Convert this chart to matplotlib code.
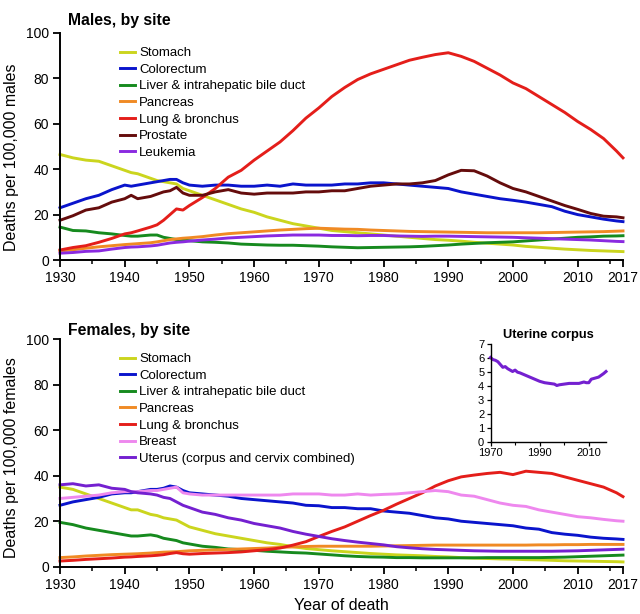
import matplotlib
matplotlib.use("Agg")
import matplotlib.pyplot as plt
from matplotlib.ticker import MultipleLocator, FixedLocator

plt.rcParams['font.family'] = ['Liberation Sans', 'DejaVu Sans']

years = [1930, 1932, 1934, 1936, 1938, 1940, 1941, 1942, 1944, 1945, 1946, 1947, 1948, 1949,
         1950, 1952, 1954, 1956, 1958, 1960, 1962, 1964, 1966, 1968, 1970, 1972, 1974, 1976,
         1978, 1980, 1982, 1984, 1986, 1988, 1990, 1992, 1994, 1996, 1998, 2000, 2002, 2004,
         2006, 2008, 2010, 2012, 2014, 2016, 2017]

# ---------------- Males ----------------
m_stomach = [46.5, 45, 44, 43.5, 41.5, 39.5, 38.5, 38, 36, 35, 34.5, 34, 33.5, 31.5,
             30.5, 28.5, 26.5, 24.5, 22.5, 21, 19, 17.5, 16, 15, 14, 13, 12.5, 12,
             11.5, 11, 10.5, 10, 9.5, 9, 8.7, 8.3, 7.8, 7.4, 7, 6.6, 6, 5.6,
             5.2, 4.8, 4.5, 4.2, 4, 3.8, 3.7]
m_colorectum = [23, 25, 27, 28.5, 31, 33, 32.5, 33, 34, 34.5, 35, 35.5, 35.5, 34,
                33, 32.5, 33, 33, 32.5, 32.5, 33, 32.5, 33.5, 33, 33, 33, 33.5, 33.5,
                34, 34, 33.5, 33, 32.5, 32, 31.5, 30, 29, 28, 27, 26.3, 25.5, 24.5,
                23.5, 21.5, 20, 19, 18, 17.2, 16.9]
m_liver = [14.5, 13, 12.8, 12, 11.5, 10.8, 10.5, 10.5, 11, 11, 10, 9.5, 9, 8.8,
           8.5, 8, 7.8, 7.5, 7, 6.8, 6.6, 6.5, 6.5, 6.3, 6.1, 5.8, 5.6, 5.4,
           5.5, 5.6, 5.7, 5.8, 6, 6.3, 6.6, 7, 7.3, 7.6, 7.8, 8, 8.4, 8.8,
           9.2, 9.6, 10, 10.2, 10.5, 10.6, 10.7]
m_pancreas = [4, 4.5, 5.2, 5.8, 6.3, 6.8, 7, 7.2, 7.6, 8, 8.5, 9, 9.3, 9.6,
              9.8, 10.3, 11, 11.6, 12, 12.4, 12.8, 13.2, 13.5, 13.8, 14, 13.8, 13.6, 13.5,
              13.2, 13, 12.8, 12.6, 12.5, 12.4, 12.3, 12.2, 12.1, 12, 12, 12, 12, 12,
              12.1, 12.2, 12.3, 12.4, 12.5, 12.7, 12.8]
m_lung = [4.4, 5.5, 6.3, 7.8, 9.5, 11.5, 12, 12.8, 14.5, 15.5, 17.5, 20, 22.5, 22,
          24, 27.5, 31.5, 36.5, 39.5, 44, 48, 52, 57, 62.5, 67, 72, 76, 79.5,
          82, 84, 86, 88, 89.3, 90.5, 91.3, 89.7, 87.5, 84.5, 81.5, 78, 75.5, 72,
          68.5, 65, 61, 57.5, 53.5, 48, 45]
m_prostate = [17.5, 19.5, 22, 23, 25.5, 27, 28.5, 27, 28, 29, 30, 30.5, 32, 29.5,
              28.5, 28.5, 30, 31, 29.5, 29, 29.5, 29.5, 29.5, 30, 30, 30.5, 30.5, 31.5,
              32.5, 33, 33.5, 33.5, 34, 35, 37.5, 39.5, 39.3, 37, 34, 31.5, 30, 28,
              26, 24, 22.3, 20.5, 19.3, 19, 18.6]
m_leukemia = [3, 3.3, 3.8, 4, 4.8, 5.5, 5.7, 5.8, 6.2, 6.5, 7, 7.5, 7.8, 8,
              8.3, 8.8, 9.2, 9.7, 10, 10.3, 10.6, 10.8, 11, 11, 11, 10.8, 10.8, 10.7,
              10.8, 10.8, 10.6, 10.5, 10.4, 10.5, 10.5, 10.4, 10.3, 10.2, 10.1, 10, 9.8, 9.6,
              9.4, 9.2, 9, 8.8, 8.5, 8.2, 8.1]

# ---------------- Females ----------------
f_stomach = [35, 34, 32, 30, 28, 26, 25, 25, 23, 22.5, 21.5, 21, 20.5, 19,
             17.5, 16, 14.5, 13.5, 12.5, 11.5, 10.5, 9.8, 8.8, 8, 7.5, 7, 6.6, 6.2,
             5.8, 5.5, 5.2, 5, 4.8, 4.5, 4.3, 4, 3.8, 3.6, 3.4, 3.3, 3.1, 3,
             2.8, 2.6, 2.5, 2.4, 2.3, 2.2, 2.1]
f_colorectum = [27, 28.5, 29.5, 30.5, 32, 32.5, 32.5, 33, 34, 34, 34.5, 35.5, 35, 33.5,
                32.5, 32, 31.5, 31, 30, 29.5, 29, 28.5, 28, 27, 26.8, 26, 26, 25.5,
                25.5, 24.5, 24, 23.5, 22.5, 21.5, 21, 20, 19.5, 19, 18.5, 18, 17, 16.5,
                15, 14.3, 13.8, 13, 12.5, 12.2, 12]
f_liver = [19.5, 18.5, 17, 16, 15, 14, 13.5, 13.5, 14, 13.5, 12.5, 12, 11.5, 10.5,
           10, 9, 8.5, 7.8, 7.5, 7.2, 6.8, 6.5, 6.2, 6, 5.6, 5.2, 4.8, 4.5,
           4.3, 4.2, 4, 4, 3.9, 3.9, 3.9, 3.9, 3.9, 4, 4, 4, 4, 4,
           4.1, 4.2, 4.4, 4.6, 4.8, 5, 5.1]
f_pancreas = [4, 4.3, 4.7, 5, 5.3, 5.5, 5.6, 5.7, 6, 6.2, 6.4, 6.5, 6.6, 6.8,
              7, 7.2, 7.4, 7.6, 7.8, 8, 8.2, 8.5, 8.7, 8.9, 9, 9, 9, 9,
              9, 9.1, 9.2, 9.3, 9.4, 9.5, 9.5, 9.5, 9.5, 9.5, 9.5, 9.5, 9.5, 9.6,
              9.6, 9.7, 9.7, 9.8, 9.8, 9.8, 9.8]
f_lung = [2.5, 2.8, 3.2, 3.5, 3.8, 4.2, 4.3, 4.5, 4.8, 5, 5.3, 5.8, 6.2, 5.7,
          5.5, 5.8, 6, 6.2, 6.5, 7, 7.5, 8.2, 9.5, 11, 13.3, 15.5, 17.5, 20,
          22.5, 24.8, 27.5, 30, 32.5, 35.5, 37.8, 39.5, 40.3, 41, 41.5, 40.5, 42, 41.5,
          41, 39.5, 38, 36.5, 35, 32.5, 30.8]
f_breast = [30, 30.5, 31, 31.5, 32.5, 33, 33, 33, 33.5, 33.5, 34, 34.5, 35, 32.5,
            32, 31.5, 31.5, 31.5, 31.5, 31.5, 31.5, 31.5, 32, 32, 32, 31.5, 31.5, 32,
            31.5, 31.8, 32, 32.5, 33, 33.5, 33, 31.5, 31, 29.5, 28, 27, 26.5, 25,
            24, 23, 22, 21.5, 20.8, 20.2, 20]
f_uterus = [36, 36.5, 35.5, 36, 34.5, 34, 33, 32.5, 32, 31.5, 30.5, 30, 28.5, 27,
            26, 24, 23, 21.5, 20.5, 19, 18, 17, 15.5, 14.3, 13.3, 12.3, 11.5, 10.8,
            10.2, 9.6, 8.8, 8.3, 7.9, 7.6, 7.4, 7.2, 7, 6.9, 6.8, 6.8, 6.8, 6.8,
            6.8, 6.9, 7, 7.2, 7.4, 7.6, 7.7]

# ---------------- Inset: uterine corpus ----------------
inset_years = [1970, 1971, 1972, 1973, 1974, 1975, 1976, 1977, 1978, 1979, 1980, 1981, 1982,
               1984, 1986, 1988, 1990, 1992, 1994, 1996, 1997, 1998, 2000, 2002, 2004, 2006,
               2008, 2009, 2010, 2011, 2012, 2014, 2016, 2017]
inset_vals = [6.0, 5.85, 5.8, 5.7, 5.5, 5.3, 5.35, 5.2, 5.1, 5.0, 5.1, 4.95, 4.9,
              4.75, 4.6, 4.45, 4.3, 4.2, 4.15, 4.1, 4.0, 4.05, 4.1, 4.15, 4.15, 4.15,
              4.25, 4.2, 4.2, 4.45, 4.5, 4.6, 4.85, 5.0]

male_labels = ["Stomach", "Colorectum", "Liver & intrahepatic bile duct", "Pancreas",
               "Lung & bronchus", "Prostate", "Leukemia"]
female_labels = ["Stomach", "Colorectum", "Liver & intrahepatic bile duct", "Pancreas",
                 "Lung & bronchus", "Breast", "Uterus (corpus and cervix combined)"]
x_ticks = [1930, 1940, 1950, 1960, 1970, 1980, 1990, 2000, 2010, 2017]

C = {
    "Stomach": "#cbd51e", "Colorectum": "#0a14cc", "Liver & intrahepatic bile duct": "#168a1e",
    "Pancreas": "#f08a24", "Lung & bronchus": "#e41e1a", "Prostate": "#650c0c",
    "Leukemia": "#8a2ae0", "Breast": "#ee88ee", "Uterus (corpus and cervix combined)": "#7420d0",
}

W, H = 640, 614
fig = plt.figure(figsize=(6.4, 6.14), dpi=100)

def fx(px):
    return px / W

def fy(py):
    return 1 - py / H

LW = 2.1
TICKFS = 10
LEGFS = 9.5


def style_axis(ax):
    for s in ["top", "right"]:
        ax.spines[s].set_visible(False)
    for s in ["left", "bottom"]:
        ax.spines[s].set_linewidth(1.4)
    ax.set_xlim(1930, 2017)
    ax.set_ylim(0, 100)
    ax.xaxis.set_major_locator(FixedLocator(x_ticks))
    ax.xaxis.set_minor_locator(FixedLocator(list(range(1935, 2016, 10))))
    ax.yaxis.set_major_locator(MultipleLocator(20))
    ax.tick_params(axis="both", which="major", length=5, width=1.3, labelsize=TICKFS, pad=3)
    ax.tick_params(axis="x", which="minor", length=3, width=1.1)
    for sp in ax.spines.values():
        sp.set_clip_on(False)


ax1 = fig.add_axes([fx(60), fy(260), fx(623) - fx(60), (260 - 33) / H])
series_m = [m_stomach, m_colorectum, m_liver, m_pancreas, m_lung, m_prostate, m_leukemia]
for lab, vals in zip(male_labels, series_m):
    ax1.plot(years, vals, color=C[lab], lw=LW, label=lab, clip_on=False, solid_joinstyle="round")
style_axis(ax1)
ax1.legend(loc="upper left", bbox_to_anchor=(fx(120), fy(47)), bbox_transform=fig.transFigure,
           frameon=False, fontsize=LEGFS, handlelength=1.15, handletextpad=0.3,
           labelspacing=0.33, borderpad=0, borderaxespad=0)
fig.text(fx(68), fy(21), "Males, by site", fontsize=11.3, fontweight="bold", va="center", ha="left")
fig.text(fx(12), fy(157), "Deaths per 100,000 males", fontsize=11.5, rotation=90,
         va="center", ha="center")

ax2 = fig.add_axes([fx(60), fy(566.7), fx(623) - fx(60), (566.7 - 339.3) / H])
series_f = [f_stomach, f_colorectum, f_liver, f_pancreas, f_lung, f_breast, f_uterus]
for lab, vals in zip(female_labels, series_f):
    ax2.plot(years, vals, color=C[lab], lw=LW, label=lab, clip_on=False, solid_joinstyle="round")
style_axis(ax2)
ax2.legend(loc="upper left", bbox_to_anchor=(fx(120), fy(353)), bbox_transform=fig.transFigure,
           frameon=False, fontsize=LEGFS, handlelength=1.15, handletextpad=0.3,
           labelspacing=0.33, borderpad=0, borderaxespad=0)
fig.text(fx(68), fy(331), "Females, by site", fontsize=11.3, fontweight="bold", va="center", ha="left")
fig.text(fx(12), fy(458), "Deaths per 100,000 females", fontsize=11.5, rotation=90,
         va="center", ha="center")
fig.text(fx(341), fy(605), "Year of death", fontsize=11.5, ha="center", va="center")

# inset
ax3 = fig.add_axes([fx(490.5), fy(441.5), (606 - 490.5) / W, (441.5 - 343.5) / H])
ax3.plot(inset_years, inset_vals, color=C["Uterus (corpus and cervix combined)"], lw=2.2,
         clip_on=False, solid_joinstyle="round")
for s in ["top", "right"]:
    ax3.spines[s].set_visible(False)
for s in ["left", "bottom"]:
    ax3.spines[s].set_linewidth(1.0)
ax3.set_xlim(1970, 2017)
ax3.set_ylim(0, 7)
ax3.xaxis.set_major_locator(FixedLocator([1970, 1990, 2010]))
ax3.xaxis.set_minor_locator(FixedLocator([1980, 2000]))
ax3.yaxis.set_major_locator(MultipleLocator(1))
ax3.tick_params(axis="both", which="major", length=3, width=0.9, labelsize=8, pad=1.5)
ax3.tick_params(axis="x", which="minor", length=2, width=0.8)
ax3.set_title("Uterine corpus", fontsize=9.3, fontweight="bold", pad=4)

fig.savefig("out.png", dpi=100, facecolor="white")
